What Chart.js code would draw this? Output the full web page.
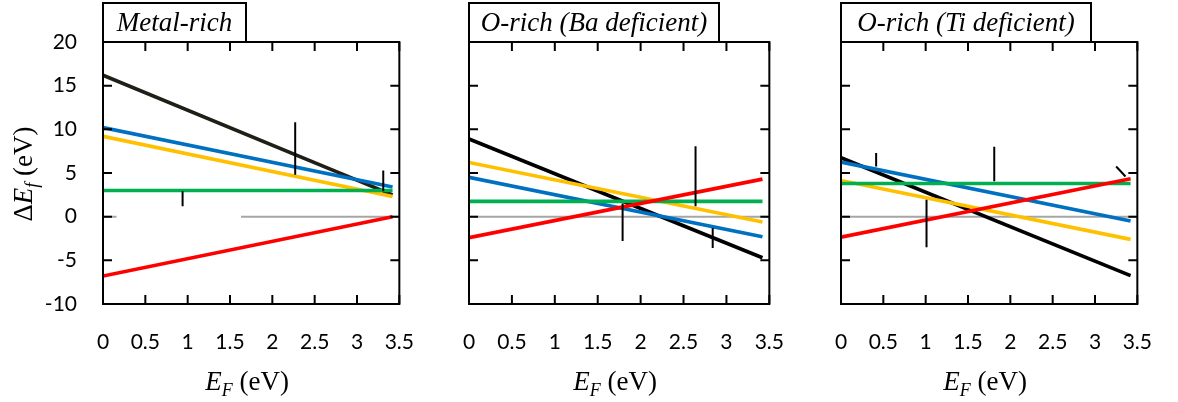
<!DOCTYPE html>
<html>
<head>
<meta charset="utf-8">
<script src="https://cdn.jsdelivr.net/npm/chart.js@4"></script>
<style>
body { margin: 0; background: #fff; }
#wrap { position: relative; width: 1178px; height: 402px; overflow: hidden; }
canvas { position: absolute; top: 0; }
</style>
</head>
<body>
<div id="wrap">
  <canvas id="c1" width="440" height="402" style="left:0px"></canvas>
  <canvas id="c2" width="380" height="402" style="left:430px"></canvas>
  <canvas id="c3" width="378" height="402" style="left:800px"></canvas>
</div>
<script>
const xTicks = [0, 0.5, 1, 1.5, 2, 2.5, 3, 3.5];
const xTickLabels = ['0', '0.5', '1', '1.5', '2', '2.5', '3', '3.5'];
const yTicks = [-10, -5, 0, 5, 10, 15, 20];
const yTickLabels = ['-10', '-5', '0', '5', '10', '15', '20'];
const panelTitles = ['Metal-rich', 'O-rich (Ba deficient)', 'O-rich (Ti deficient)'];

// E_F where every line starts and stops
const lineEnds = [0, 3.42];

// ΔE_f at the two ends
const metalBlack = [16.2, 2.5];
const metalBlue = [10.2, 3.4];
const metalYellow = [9.2, 2.3];
const metalGreen = [3.0, 3.0];
const metalRed = [-6.8, 0];

const baBlack = [8.9, -4.7];
const baYellow = [6.2, -0.6];
const baBlue = [4.5, -2.3];
const baGreen = [1.75, 1.75];
const baRed = [-2.4, 4.3];

const tiBlack = [6.75, -6.75];
const tiBlue = [6.25, -0.5];
const tiYellow = [4.15, -2.6];
const tiGreen = [3.8, 3.8];
const tiRed = [-2.35, 4.35];

// short black strokes [x1, y1, x2, y2]
const metalMarks = [[0.94, 2.9, 0.94, 1.2], [2.27, 10.8, 2.27, 4.8], [3.31, 5.3, 3.31, 2.9]];
const baMarks = [[1.79, 1.5, 1.79, -2.8], [2.64, 8.05, 2.64, 1.2], [2.84, -1.3, 2.84, -3.6]];
const tiMarks = [[0.415, 7.3, 0.415, 5.75], [1.01, 1.95, 1.01, -3.5], [1.81, 8.0, 1.81, 4.05], [3.25, 5.75, 3.36, 4.6]];

// pieces of the grey zero line [from, to]
const metalZero = [[0, 0.16], [1.63, 3.5]];
const fullZero = [[0, 3.5]];

const tickFont = { family: 'Lato', size: 21 };
const serif = '"Liberation Serif", "DejaVu Serif", serif';

function line(vals, color) {
  return {
    data: lineEnds.map((x, i) => ({ x: x, y: vals[i] })),
    borderColor: color, borderWidth: 3.6, pointRadius: 0, borderCapStyle: 'butt'
  };
}
function marks(list) {
  return list.map(m => ({
    data: [{ x: m[0], y: m[1] }, { x: m[2], y: m[3] }],
    borderColor: '#000', borderWidth: 2, pointRadius: 0
  }));
}
function zero(list) {
  return list.map(z => ({
    data: [{ x: z[0], y: 0 }, { x: z[1], y: 0 }],
    borderColor: '#a6a6a6', borderWidth: 2, pointRadius: 0
  }));
}

// draws one run of text pieces, each with its own font and offset
function drawPieces(ctx, pieces, cx, baseY) {
  let total = 0;
  pieces.forEach(p => { ctx.font = p.font; p.w = ctx.measureText(p.t).width; total += p.w; });
  let x = cx - total / 2;
  pieces.forEach(p => {
    ctx.font = p.font;
    ctx.fillText(p.t, x, baseY + (p.dy || 0));
    x += p.w;
  });
}

const framePlugin = {
  id: 'frame',
  afterDraw(chart, args, opts) {
    const { ctx, chartArea: a, scales } = chart;
    ctx.save();
    ctx.strokeStyle = '#000';
    ctx.fillStyle = '#000';
    ctx.lineWidth = 2;
    ctx.strokeRect(a.left, a.top, a.right - a.left, a.bottom - a.top);
    ctx.beginPath();
    xTicks.forEach(v => {
      const px = scales.x.getPixelForValue(v);
      ctx.moveTo(px, a.bottom); ctx.lineTo(px, a.bottom - 9);
      ctx.moveTo(px, a.top); ctx.lineTo(px, a.top + 9);
    });
    yTicks.forEach(v => {
      const py = scales.y.getPixelForValue(v);
      ctx.moveTo(a.left, py); ctx.lineTo(a.left + 9, py);
      ctx.moveTo(a.right, py); ctx.lineTo(a.right - 9, py);
    });
    ctx.stroke();

    // title box sitting on the plot frame
    ctx.fillStyle = '#fff';
    ctx.fillRect(a.left, 3, opts.boxWidth, a.top - 3);
    ctx.strokeRect(a.left, 3, opts.boxWidth, a.top - 3);
    ctx.fillStyle = '#000';
    ctx.textAlign = 'left';
    ctx.textBaseline = 'alphabetic';
    drawPieces(ctx, [{ t: opts.title, font: 'italic 27px ' + serif }], a.left + opts.boxWidth / 2, 31);

    // x axis title
    drawPieces(ctx, [
      { t: 'E', font: 'italic 27px ' + serif },
      { t: 'F', font: 'italic 18px ' + serif, dy: 6 },
      { t: ' (eV)', font: '27px ' + serif }
    ], (a.left + a.right) / 2 - 4, 390);

    if (opts.yTitle) {
      ctx.translate(32, 174);
      ctx.rotate(-Math.PI / 2);
      drawPieces(ctx, [
        { t: 'Δ', font: '27px ' + serif },
        { t: 'E', font: 'italic 27px ' + serif },
        { t: 'f', font: 'italic 18px ' + serif, dy: 6 },
        { t: ' (eV)', font: '27px ' + serif }
      ], 0, 0);
    }
    ctx.restore();
  }
};

function makeChart(id, datasets, cfg) {
  new Chart(document.getElementById(id), {
    type: 'line',
    data: { datasets: datasets },
    options: {
      responsive: false,
      animation: false,
      layout: { padding: { left: 0, top: 42, right: cfg.right, bottom: 0 } },
      plugins: {
        legend: { display: false },
        tooltip: { enabled: false },
        frame: { title: cfg.title, boxWidth: cfg.boxWidth, yTitle: cfg.showY }
      },
      scales: {
        x: {
          type: 'linear', min: 0, max: 3.5,
          afterBuildTicks: s => { s.ticks = xTicks.map(v => ({ value: v })); },
          afterFit: s => { s.height = 98; },
          grid: { display: false, drawTicks: false },
          border: { display: false },
          ticks: {
            padding: 26, font: tickFont, color: '#000', maxRotation: 0, autoSkip: false,
            callback: (v, i) => xTickLabels[i]
          }
        },
        y: {
          type: 'linear', min: -10, max: 20,
          afterBuildTicks: s => { s.ticks = yTicks.map(v => ({ value: v })); },
          afterFit: s => { s.width = cfg.yWidth; },
          grid: { display: false, drawTicks: false },
          border: { display: false },
          ticks: {
            display: cfg.showY, padding: 26, font: tickFont, color: '#000', autoSkip: false,
            callback: (v, i) => yTickLabels[i]
          }
        }
      }
    },
    plugins: [framePlugin]
  });
}

makeChart('c1', [].concat(
  marks(metalMarks),
  [line(metalRed, '#ff0000'), line(metalGreen, '#00b050'), line(metalYellow, '#ffc000'),
   line(metalBlue, '#0070c0'), line(metalBlack, '#1f1f17')],
  zero(metalZero)
), { title: panelTitles[0], boxWidth: 143, right: 27, yWidth: 103, showY: true });

makeChart('c2', [].concat(
  marks(baMarks),
  [line(baRed, '#ff0000'), line(baGreen, '#00b050'), line(baYellow, '#ffc000'),
   line(baBlue, '#0070c0'), line(baBlack, '#000000')],
  zero(fullZero)
), { title: panelTitles[1], boxWidth: 250, right: 30, yWidth: 39, showY: false });

makeChart('c3', [].concat(
  marks(tiMarks),
  [line(tiRed, '#ff0000'), line(tiGreen, '#00b050'), line(tiYellow, '#ffc000'),
   line(tiBlue, '#0070c0'), line(tiBlack, '#000000')],
  zero(fullZero)
), { title: panelTitles[2], boxWidth: 250, right: 25, yWidth: 41, showY: false });
</script>
</body>
</html>
